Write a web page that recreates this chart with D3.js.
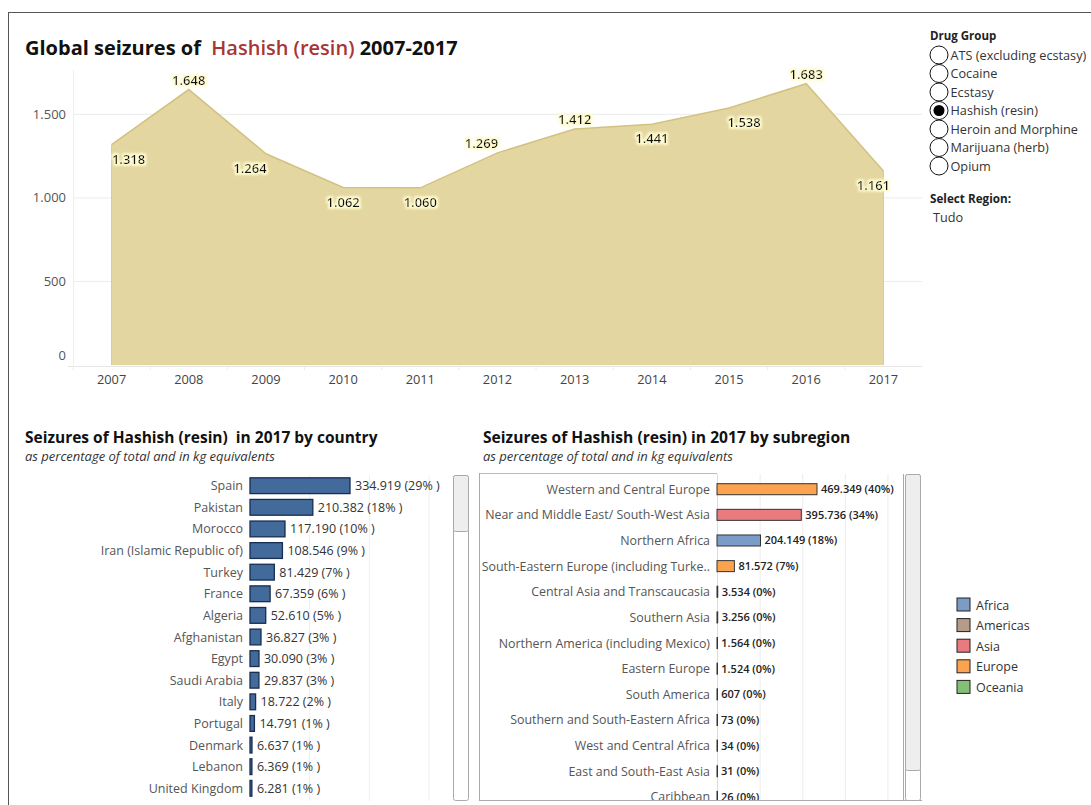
<!DOCTYPE html>
<html>
<head>
<meta charset="utf-8">
<script src="https://cdn.jsdelivr.net/npm/d3@7"></script>
<style>
  html, body { margin: 0; padding: 0; background: #fff; }
  svg { display: block; font-family: "Open Sans", "Noto Sans", sans-serif; }
  text { white-space: pre; }
</style>
</head>
<body>
<svg id="chart" width="1091" height="805"></svg>
<script>
// ---- Data ----
const years = [2007, 2008, 2009, 2010, 2011, 2012, 2013, 2014, 2015, 2016, 2017];
const seizuresTons = [1318, 1648, 1264, 1062, 1060, 1269, 1412, 1441, 1538, 1683, 1161];
const labelSide = ["below", "above", "below", "below", "below", "above", "above", "below", "below", "above", "below"];
const yTicks = [0, 500, 1000, 1500];

const countries = ["Spain", "Pakistan", "Morocco", "Iran (Islamic Republic of)", "Turkey", "France", "Algeria",
  "Afghanistan", "Egypt", "Saudi Arabia", "Italy", "Portugal", "Denmark", "Lebanon", "United Kingdom"];
const countryKg = [334919, 210382, 117190, 108546, 81429, 67359, 52610, 36827, 30090, 29837, 18722, 14791, 6637, 6369, 6281];
const countryPct = [29, 18, 10, 9, 7, 6, 5, 3, 3, 3, 2, 1, 1, 1, 1];

const subregions = ["Western and Central Europe", "Near and Middle East/ South-West Asia", "Northern Africa",
  "South-Eastern Europe (including Turke..", "Central Asia and Transcaucasia", "Southern Asia",
  "Northern America (including Mexico)", "Eastern Europe", "South America", "Southern and South-Eastern Africa",
  "West and Central Africa", "East and South-East Asia", "Caribbean"];
const subregionKg = [469349, 395736, 204149, 81572, 3534, 3256, 1564, 1524, 607, 73, 34, 31, 26];
const subregionPct = [40, 34, 18, 7, 0, 0, 0, 0, 0, 0, 0, 0, 0];
const subregionRegion = ["Europe", "Asia", "Africa", "Europe", "Asia", "Asia", "Americas", "Europe", "Americas",
  "Africa", "Africa", "Asia", "Americas"];

const regions = ["Africa", "Americas", "Asia", "Europe", "Oceania"];
const regionColors = ["#7b9cc7", "#b49c89", "#e97b7e", "#fba34f", "#83bf75"];

const drugGroups = ["ATS (excluding ecstasy)", "Cocaine", "Ecstasy", "Hashish (resin)", "Heroin and Morphine",
  "Marijuana (herb)", "Opium"];
const selectedDrug = "Hashish (resin)";
const selectedRegion = "Tudo";

// ---- Setup ----
const svg = d3.select("#chart");
const locale = d3.formatLocale({ decimal: ",", thousands: ".", grouping: [3], currency: ["", ""] });
const fmt = locale.format(",d");

// outer frame
svg.append("line").attr("x1", 8).attr("x2", 1091).attr("y1", 12.5).attr("y2", 12.5).attr("stroke", "#555");
svg.append("line").attr("x1", 8.5).attr("x2", 8.5).attr("y1", 12).attr("y2", 805).attr("stroke", "#555");

// ---- Area chart ----
const title = svg.append("text").attr("x", 25).attr("y", 55)
  .attr("font-size", 20).attr("font-weight", 700).attr("fill", "#111");
title.append("tspan").text("Global seizures of  ");
title.append("tspan").attr("fill", "#a93434").attr("font-weight", 600).text("Hashish (resin)");
title.append("tspan").text(" 2007-2017");

const area = { left: 73, right: 922, top: 70, bottom: 365 };
const x = d3.scaleBand().domain(years).range([area.left, area.right]);
const xc = d => x(d) + x.bandwidth() / 2;
const y = d3.scaleLinear().domain([0, 1500]).range([area.bottom, 114.3]);

const g = svg.append("g");
// horizontal gridlines
g.selectAll("line.grid").data(yTicks.filter(t => t > 0)).join("line")
  .attr("x1", area.left).attr("x2", area.right)
  .attr("y1", d => y(d)).attr("y2", d => y(d))
  .attr("stroke", "#ececec");
// y tick labels
g.selectAll("text.ytick").data(yTicks).join("text")
  .attr("x", 66).attr("y", d => d === 0 ? y(d) - 5 : y(d) + 4.5)
  .attr("text-anchor", "end").attr("font-size", 13).attr("fill", "#555")
  .text(d => fmt(d));

// area
const areaGen = d3.area().x((d, i) => xc(years[i])).y0(y(0)).y1(d => y(d));
g.append("path").datum(seizuresTons).attr("d", areaGen)
  .attr("fill", "#e3d6a0");
const lineGen = d3.line().x((d, i) => xc(years[i])).y(d => y(d));
g.append("path").datum(seizuresTons).attr("d", lineGen)
  .attr("fill", "none").attr("stroke", "#d2c282").attr("stroke-width", 1.5);
g.append("line").attr("x1", xc(years[0])).attr("x2", xc(years[0]))
  .attr("y1", y(seizuresTons[0])).attr("y2", y(0)).attr("stroke", "#d8ca8e");
g.append("line").attr("x1", xc(years[10])).attr("x2", xc(years[10]))
  .attr("y1", y(seizuresTons[10])).attr("y2", y(0)).attr("stroke", "#d8ca8e");

// x axis
g.append("line").attr("x1", 68).attr("x2", area.right).attr("y1", area.bottom + 1.5).attr("y2", area.bottom + 1.5)
  .attr("stroke", "#e6e6e6");
g.append("line").attr("x1", area.left + 0.5).attr("x2", area.left + 0.5).attr("y1", 70).attr("y2", area.bottom + 2)
  .attr("stroke", "#eeeeee");
g.selectAll("line.xtick").data(years).join("line")
  .attr("x1", d => x(d)).attr("x2", d => x(d))
  .attr("y1", area.bottom + 2).attr("y2", area.bottom + 5).attr("stroke", "#ececec");
g.selectAll("text.xtick").data(years).join("text")
  .attr("x", d => xc(d)).attr("y", 383.5)
  .attr("text-anchor", "middle").attr("font-size", 12.8).attr("fill", "#444")
  .text(d => d);

// value labels with soft halo
const nudge = { 2007: 17, 2009: -16, 2012: -16, 2015: 15, 2017: -10 };
const defs = svg.append("defs");
const f = defs.append("filter").attr("id", "halo").attr("x", "-20%").attr("y", "-40%").attr("width", "140%").attr("height", "180%");
f.append("feMorphology").attr("in", "SourceAlpha").attr("operator", "dilate").attr("radius", 1.6).attr("result", "d");
f.append("feGaussianBlur").attr("in", "d").attr("stdDeviation", 1.3).attr("result", "b");
f.append("feFlood").attr("flood-color", "#fffbd0");
f.append("feComposite").attr("in2", "b").attr("operator", "in").attr("result", "h");
const fm = f.append("feMerge");
fm.append("feMergeNode").attr("in", "h");
fm.append("feMergeNode").attr("in", "SourceGraphic");

g.selectAll("text.val").data(seizuresTons).join("text")
  .attr("x", (d, i) => xc(years[i]) + (nudge[years[i]] || 0))
  .attr("y", (d, i) => labelSide[i] === "above" ? y(d) - 5 : y(d) + 19)
  .attr("text-anchor", "middle").attr("font-size", 13).attr("font-weight", 600).attr("fill", "#111")
  .attr("filter", "url(#halo)")
  .text(d => fmt(d));

// ---- Right side controls ----
const ctl = svg.append("g");
ctl.append("text").attr("x", 930).attr("y", 40).attr("font-size", 11.5).attr("font-weight", 700)
  .attr("fill", "#222").text("Drug Group");
const rows = ctl.selectAll("g.radio").data(drugGroups).join("g")
  .attr("transform", (d, i) => `translate(939, ${55 + i * 18.5})`);
rows.append("circle").attr("r", 9).attr("fill", "#fff").attr("stroke", "#111").attr("stroke-width", 1);
rows.filter(d => d === selectedDrug).append("circle").attr("r", 5.5).attr("fill", "#000");
rows.append("text").attr("x", 11.5).attr("y", 4.5).attr("font-size", 12.7).attr("fill", "#333").text(d => d);
ctl.append("text").attr("x", 930).attr("y", 203).attr("font-size", 11.7).attr("font-weight", 700)
  .attr("fill", "#222").text("Select Region:");
ctl.append("text").attr("x", 933).attr("y", 222).attr("font-size", 12.7).attr("fill", "#333").text(selectedRegion);

// region legend
const leg = svg.append("g").selectAll("g").data(regions).join("g")
  .attr("transform", (d, i) => `translate(957, ${598 + i * 20.6})`);
leg.append("rect").attr("width", 13).attr("height", 13)
  .attr("fill", (d, i) => regionColors[i]).attr("stroke", "#222").attr("stroke-width", 1);
leg.append("text").attr("x", 19).attr("y", 11.5).attr("font-size", 12.5).attr("fill", "#333").text(d => d);

// ---- Bars by country ----
const cg = svg.append("g");
cg.append("text").attr("x", 25).attr("y", 443).attr("font-size", 15.5).attr("font-weight", 700)
  .attr("fill", "#111").text("Seizures of Hashish (resin)  in 2017 by country");
cg.append("text").attr("x", 25).attr("y", 461).attr("font-size", 13).attr("font-style", "italic")
  .attr("fill", "#333").text("as percentage of total and in kg equivalents");

const cx = d3.scaleLinear().domain([0, 334919]).range([250, 350]);
const cy = d3.scaleBand().domain(countries).range([475, 475 + countries.length * 21.6]).paddingInner(0.27).paddingOuter(0.13);
cg.selectAll("line.cgrid").data([200000, 400000, 600000]).join("line")
  .attr("x1", d => cx(d)).attr("x2", d => cx(d)).attr("y1", 475).attr("y2", 801).attr("stroke", "#efefef");
cg.selectAll("rect.bar").data(countryKg).join("rect")
  .attr("x", cx(0)).attr("y", (d, i) => cy(countries[i]))
  .attr("width", d => Math.max(0.5, cx(d) - cx(0))).attr("height", cy.bandwidth())
  .attr("fill", "#426b9b").attr("stroke", "#182d52").attr("stroke-width", 1.3);
cg.selectAll("text.cname").data(countries).join("text")
  .attr("x", 243).attr("y", d => cy(d) + cy.bandwidth() / 2 + 4.5)
  .attr("text-anchor", "end").attr("font-size", 12.5).attr("fill", "#555").text(d => d);
cg.selectAll("text.cval").data(countryKg).join("text")
  .attr("x", d => cx(d) + 5).attr("y", (d, i) => cy(countries[i]) + cy.bandwidth() / 2 + 4.5)
  .attr("font-size", 12.5).attr("fill", "#333").text((d, i) => `${fmt(d)} (${countryPct[i]}% )`);
// scrollbar
cg.append("rect").attr("x", 453.5).attr("y", 475.5).attr("width", 15).attr("height", 325).attr("rx", 2)
  .attr("fill", "#fff").attr("stroke", "#aaa");
cg.append("rect").attr("x", 453.5).attr("y", 475.5).attr("width", 15).attr("height", 56).attr("rx", 2)
  .attr("fill", "#eeeeee").attr("stroke", "#aaa");

// ---- Bars by subregion ----
const sg = svg.append("g");
sg.append("text").attr("x", 483).attr("y", 443).attr("font-size", 15.6).attr("font-weight", 700)
  .attr("fill", "#111").text("Seizures of Hashish (resin) in 2017 by subregion");
sg.append("text").attr("x", 483).attr("y", 461).attr("font-size", 13).attr("font-style", "italic")
  .attr("fill", "#333").text("as percentage of total and in kg equivalents");

const sx = d3.scaleLinear().domain([0, 469349]).range([717, 817]);
const sy = d3.scaleBand().domain(subregions).range([476, 476 + subregions.length * 25.7]).paddingInner(0.57).paddingOuter(0.3);
const regionColor = d3.scaleOrdinal().domain(regions).range(regionColors);

defs.append("clipPath").attr("id", "subclip").append("rect").attr("x", 479).attr("y", 474).attr("width", 425).attr("height", 326);
const sp = sg.append("g").attr("clip-path", "url(#subclip)");
sp.selectAll("line.sgrid").data([0, 200000, 400000, 600000, 800000]).join("line")
  .attr("x1", d => sx(d) + 0.5).attr("x2", d => sx(d) + 0.5).attr("y1", 474).attr("y2", 800)
  .attr("stroke", d => d === 0 ? "#dcdcdc" : "#ececec");
sp.selectAll("rect.bar").data(subregionKg).join("rect")
  .attr("x", sx(0)).attr("y", (d, i) => sy(subregions[i]))
  .attr("width", d => Math.max(0.5, sx(d) - sx(0))).attr("height", sy.bandwidth())
  .attr("fill", (d, i) => regionColor(subregionRegion[i])).attr("stroke", "#333").attr("stroke-width", 1);
sp.selectAll("text.sname").data(subregions).join("text")
  .attr("x", 710).attr("y", d => sy(d) + sy.bandwidth() / 2 + 4.5)
  .attr("text-anchor", "end").attr("font-size", 12.4).attr("fill", "#555").text(d => d);
sp.selectAll("text.sval").data(subregionKg).join("text")
  .attr("x", d => sx(d) + 4).attr("y", (d, i) => sy(subregions[i]) + sy.bandwidth() / 2 + 4)
  .attr("font-size", 11).attr("font-weight", 600).attr("fill", "#222")
  .text((d, i) => `${fmt(d)} (${subregionPct[i]}%)`);

// pane borders
sg.append("line").attr("x1", 479).attr("x2", 717).attr("y1", 473.5).attr("y2", 473.5).attr("stroke", "#bbb");
sg.append("line").attr("x1", 479.5).attr("x2", 479.5).attr("y1", 473).attr("y2", 801).attr("stroke", "#aaa");
sg.append("line").attr("x1", 903.5).attr("x2", 903.5).attr("y1", 474).attr("y2", 801).attr("stroke", "#aaa");
sg.append("line").attr("x1", 479).attr("x2", 922).attr("y1", 800.5).attr("y2", 800.5).attr("stroke", "#aaa");
sg.append("rect").attr("x", 905.5).attr("y", 474.5).attr("width", 15).attr("height", 326).attr("rx", 2)
  .attr("fill", "#fff").attr("stroke", "#aaa");
sg.append("rect").attr("x", 905.5).attr("y", 474.5).attr("width", 15).attr("height", 296).attr("rx", 2)
  .attr("fill", "#eeeeee").attr("stroke", "#aaa");
</script>
</body>
</html>
